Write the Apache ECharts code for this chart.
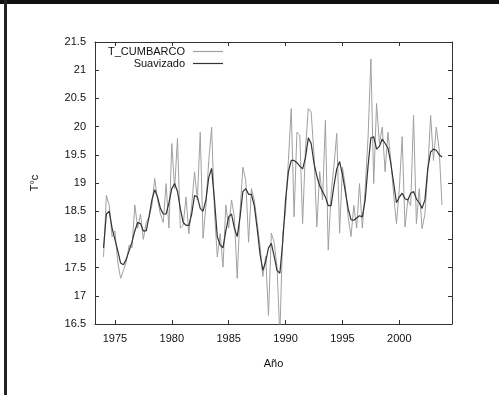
<!DOCTYPE html>
<html>
<head>
<meta charset="utf-8">
<script src="https://cdn.jsdelivr.net/npm/echarts@6/dist/echarts.min.js"></script>
<style>
    html, body { margin: 0; padding: 0; background: #fff; }
    #chart { position: absolute; left: 0; top: 0; width: 499px; height: 395px; }
    .frame-top { position: absolute; left: 0; top: 0; width: 499px; height: 4px; background: #111; }
    .frame-left { position: absolute; left: 4px; top: 0; width: 3px; height: 395px; background: #222; }
</style>
</head>
<body>
<div id="chart"></div>
<div class="frame-top"></div>
<div class="frame-left"></div>
<script>
// años (trimestral)
const years = [
    1974.00, 1974.25, 1974.50, 1974.75, 1975.00, 1975.25, 1975.50, 1975.75,
    1976.00, 1976.25, 1976.50, 1976.75, 1977.00, 1977.25, 1977.50, 1977.75,
    1978.00, 1978.25, 1978.50, 1978.75, 1979.00, 1979.25, 1979.50, 1979.75,
    1980.00, 1980.25, 1980.50, 1980.75, 1981.00, 1981.25, 1981.50, 1981.75,
    1982.00, 1982.25, 1982.50, 1982.75, 1983.00, 1983.25, 1983.50, 1983.75,
    1984.00, 1984.25, 1984.50, 1984.75, 1985.00, 1985.25, 1985.50, 1985.75,
    1986.00, 1986.25, 1986.50, 1986.75, 1987.00, 1987.25, 1987.50, 1987.75,
    1988.00, 1988.25, 1988.50, 1988.75, 1989.00, 1989.25, 1989.50, 1989.75,
    1990.00, 1990.25, 1990.50, 1990.75, 1991.00, 1991.25, 1991.50, 1991.75,
    1992.00, 1992.25, 1992.50, 1992.75, 1993.00, 1993.25, 1993.50, 1993.75,
    1994.00, 1994.25, 1994.50, 1994.75, 1995.00, 1995.25, 1995.50, 1995.75,
    1996.00, 1996.25, 1996.50, 1996.75, 1997.00, 1997.25, 1997.50, 1997.75,
    1998.00, 1998.25, 1998.50, 1998.75, 1999.00, 1999.25, 1999.50, 1999.75,
    2000.00, 2000.25, 2000.50, 2000.75, 2001.00, 2001.25, 2001.50, 2001.75,
    2002.00, 2002.25, 2002.50, 2002.75, 2003.00, 2003.25, 2003.50, 2003.75
];

// T_CUMBARCO
const tCumbarco = [
    17.69, 18.78, 18.60, 18.05, 18.15, 17.60, 17.31, 17.45,
    17.60, 17.90, 17.85, 18.61, 18.20, 18.45, 18.00, 18.30,
    18.40, 18.60, 19.08, 18.70, 18.45, 18.30, 18.99, 18.20,
    19.70, 18.90, 19.79, 18.20, 18.25, 18.75, 18.10, 18.60,
    19.20, 18.70, 19.90, 18.02, 18.60, 19.40, 19.99, 18.50,
    17.69, 18.10, 17.51, 18.61, 18.20, 18.70, 18.40, 17.31,
    18.50, 19.28, 19.05, 17.95, 18.90, 18.70, 18.30, 17.90,
    17.34, 17.70, 16.65, 18.11, 17.95, 17.50, 16.30, 18.10,
    18.50, 19.40, 20.32, 18.40, 19.90, 19.85, 18.28, 19.60,
    20.32, 20.26, 19.50, 18.22, 19.20, 18.70, 20.11, 17.81,
    18.80, 19.30, 19.88, 18.11, 19.28, 18.95, 18.40, 18.05,
    18.60, 18.20, 18.99, 18.20, 18.90, 19.80, 21.20, 18.99,
    20.41, 19.70, 19.99, 19.20, 19.90, 19.40, 18.80, 18.28,
    18.90, 19.82, 18.22, 18.70, 18.60, 20.20, 18.28, 18.90,
    18.19, 18.45, 19.20, 20.20, 19.40, 19.99, 19.60, 18.61
];

// Suavizado
const suavizado = [
    17.85, 18.45, 18.50, 18.20, 18.00, 17.80, 17.58, 17.55,
    17.65, 17.80, 17.95, 18.15, 18.30, 18.28, 18.15, 18.15,
    18.40, 18.70, 18.88, 18.75, 18.55, 18.45, 18.45, 18.65,
    18.90, 18.99, 18.85, 18.55, 18.30, 18.25, 18.25, 18.45,
    18.78, 18.75, 18.55, 18.50, 18.70, 19.10, 19.26, 18.70,
    18.05, 17.90, 17.85, 18.15, 18.40, 18.45, 18.20, 18.05,
    18.40, 18.85, 18.90, 18.80, 18.80, 18.60, 18.20, 17.75,
    17.45, 17.60, 17.85, 17.93, 17.70, 17.45, 17.40, 17.95,
    18.70, 19.20, 19.40, 19.40, 19.36, 19.30, 19.25, 19.45,
    19.80, 19.70, 19.35, 19.12, 18.95, 18.85, 18.75, 18.60,
    18.60, 18.95, 19.25, 19.38, 19.15, 18.85, 18.55, 18.35,
    18.34, 18.38, 18.42, 18.40, 18.70, 19.30, 19.80, 19.82,
    19.60, 19.65, 19.78, 19.70, 19.62, 19.35, 19.00, 18.65,
    18.75, 18.82, 18.72, 18.70, 18.82, 18.85, 18.72, 18.65,
    18.55, 18.70, 19.25, 19.55, 19.60, 19.58, 19.50, 19.46
];

const xTicks = [1975, 1980, 1985, 1990, 1995, 2000];

const chartDom = document.getElementById('chart');
const myChart = echarts.init(chartDom);

const font = 'Liberation Sans, Arial, sans-serif';
const frame = { show: true, lineStyle: { color: '#333', width: 1 } };

const legendBase = {
    orient: 'horizontal',
    align: 'right',
    right: 276,
    icon: 'rect',
    itemWidth: 30,
    itemHeight: 1.2,
    padding: 0,
    textStyle: { fontFamily: font, fontSize: 11, color: '#111', padding: [0, 3, 0, 0] }
};

const option = {
    animation: false,
    legend: [
        Object.assign({}, legendBase, { top: 46, data: ['T_CUMBARCO'] }),
        Object.assign({}, legendBase, { top: 58, data: ['Suavizado'] })
    ],
    grid: {
        left: 95,
        top: 42,
        right: 47,
        bottom: 71,
        containLabel: false
    },
    xAxis: [
        {
            type: 'value',
            min: 1973.25,
            max: 2004.63,
            name: 'Año',
            nameLocation: 'middle',
            nameGap: 34,
            nameTextStyle: { fontFamily: font, fontSize: 11, color: '#111' },
            axisLine: frame,
            axisTick: { show: true, inside: true, length: 4, customValues: xTicks, lineStyle: { color: '#333' } },
            axisLabel: {
                customValues: xTicks,
                formatter: v => String(v),
                fontFamily: font, fontSize: 11, color: '#111', margin: 9
            },
            splitLine: { show: false }
        },
        {
            type: 'value',
            position: 'top',
            min: 1973.25,
            max: 2004.63,
            axisLine: frame,
            axisTick: { show: true, inside: true, length: 4, customValues: xTicks, lineStyle: { color: '#333' } },
            axisLabel: { show: false },
            splitLine: { show: false }
        }
    ],
    yAxis: [
        {
            type: 'value',
            min: 16.5,
            max: 21.5,
            interval: 0.5,
            name: 'T°c',
            nameLocation: 'middle',
            nameGap: 55,
            nameRotate: 90,
            nameTextStyle: { fontFamily: font, fontSize: 11, color: '#111' },
            axisLine: frame,
            axisTick: { show: true, inside: true, length: 4, lineStyle: { color: '#333' } },
            axisLabel: { fontFamily: font, fontSize: 11, color: '#111', margin: 9 },
            splitLine: { show: false }
        },
        {
            type: 'value',
            position: 'right',
            min: 16.5,
            max: 21.5,
            interval: 0.5,
            axisLine: frame,
            axisTick: { show: true, inside: true, length: 4, lineStyle: { color: '#333' } },
            axisLabel: { show: false },
            splitLine: { show: false }
        }
    ],
    series: [
        {
            name: 'T_CUMBARCO',
            type: 'line',
            data: years.map((y, i) => [y, tCumbarco[i]]),
            showSymbol: false,
            clip: true,
            color: '#a0a0a0',
            lineStyle: { color: '#a0a0a0', width: 1 }
        },
        {
            name: 'Suavizado',
            type: 'line',
            data: years.map((y, i) => [y, suavizado[i]]),
            showSymbol: false,
            clip: true,
            color: '#333',
            lineStyle: { color: '#333', width: 1.2 }
        }
    ]
};

option && myChart.setOption(option);
</script>
</body>
</html>
